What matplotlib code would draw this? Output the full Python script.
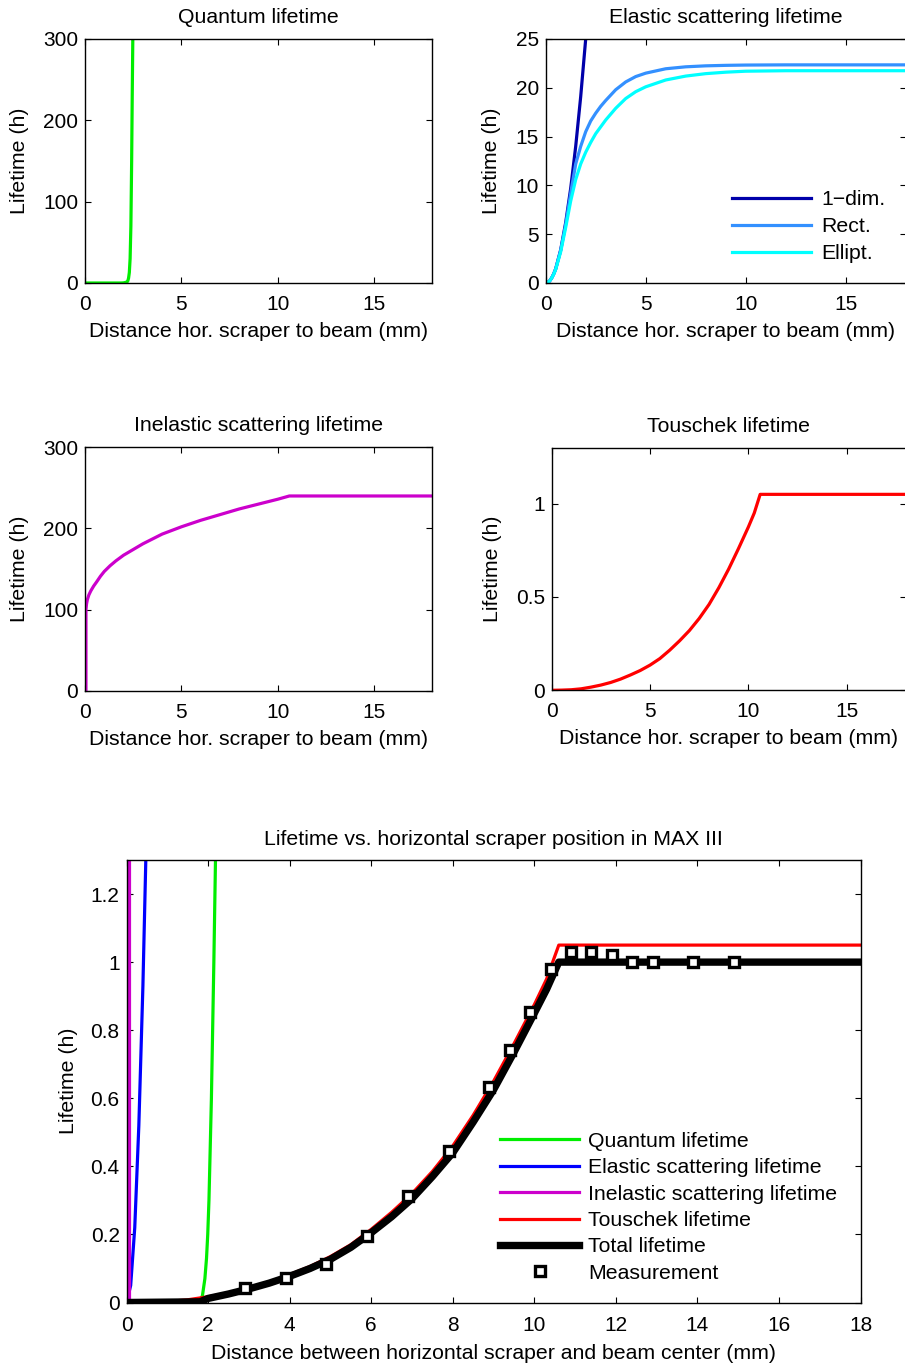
import numpy as np
import matplotlib
matplotlib.use('Agg')
import matplotlib.pyplot as plt

plt.rcParams['font.family'] = ['Liberation Sans', 'DejaVu Sans']
plt.rcParams['font.size'] = 15.3

# quantum lifetime (h) vs scraper distance (mm)
quant_x = [0, 1.0, 1.5, 1.8, 1.86, 1.92, 1.96, 1.99, 2.02, 2.05, 2.08, 2.11, 2.14, 2.18, 2.22, 2.26, 2.3, 2.34, 2.38, 2.42, 2.45, 2.48, 2.52]
quant_y = [0, 0, 0.001, 0.006, 0.02, 0.07, 0.13, 0.2, 0.3, 0.45, 0.6, 0.8, 1.0, 1.3, 2.5, 6, 13, 30, 70, 150, 230, 300, 500]

# elastic scattering lifetime (h), three aperture models
elast_x = [0, 0.1, 0.2, 0.3, 0.4, 0.5, 0.75, 1.0, 1.25, 1.5, 1.75, 2.0, 2.25, 2.5, 2.75, 3, 3.5, 4, 4.5, 5, 6, 7, 8, 9, 10, 12, 15, 18]
elast_1dim = [0, 0.05, 0.22, 0.52, 0.93, 1.45, 3.4, 6.2, 9.7, 14.0, 19.1, 25.0, 31.6, 39, 47, 56, 76, 100, 126, 156, 225, 306, 400, 506, 625, 900, 1400, 2000]
elast_rect = [0, 0.05, 0.22, 0.52, 0.93, 1.45, 3.35, 6.0, 9.2, 12.2, 14.0, 15.5, 16.6, 17.4, 18.1, 18.7, 19.8, 20.6, 21.15, 21.5, 21.95, 22.15, 22.25, 22.3, 22.33, 22.35, 22.35, 22.35]
elast_ell = [0, 0.05, 0.22, 0.51, 0.9, 1.4, 3.2, 5.7, 8.4, 10.6, 12.2, 13.4, 14.4, 15.3, 16.0, 16.7, 17.9, 18.9, 19.6, 20.1, 20.8, 21.2, 21.45, 21.6, 21.7, 21.75, 21.75, 21.75]

# inelastic scattering lifetime (h)
inel_x = [0.05, 0.05, 0.08, 0.12, 0.2, 0.3, 0.45, 0.6, 0.8, 1.0, 1.3, 1.6, 2, 2.5, 3, 3.5, 4, 5, 6, 7, 8, 9, 10, 10.6, 18]
inel_y = [0, 100, 107, 112, 118, 123, 129, 134, 141, 147, 154, 160, 167, 174, 181, 187, 193, 202, 210, 217, 224, 230, 236, 240, 240]

# Touschek lifetime (h)
tou_x = [0, 0.5, 1, 1.5, 2, 2.5, 3, 3.5, 4, 4.5, 5, 5.5, 6, 6.5, 7, 7.5, 8, 8.5, 9, 9.5, 10, 10.3, 10.6, 18]
tou_y = [0, 0.001, 0.003, 0.008, 0.017, 0.028, 0.042, 0.06, 0.082, 0.106, 0.135, 0.17, 0.215, 0.265, 0.32, 0.385, 0.46, 0.55, 0.65, 0.76, 0.875, 0.95, 1.05, 1.05]

# total lifetime (h)
tot_x = [0, 1.8, 2, 2.5, 3, 3.5, 4, 4.5, 5, 5.5, 6, 6.5, 7, 7.5, 8, 8.5, 9, 9.5, 10, 10.3, 10.6, 18]
tot_y = [0, 0.002, 0.012, 0.025, 0.04, 0.057, 0.077, 0.1, 0.127, 0.162, 0.205, 0.252, 0.305, 0.37, 0.44, 0.53, 0.625, 0.735, 0.85, 0.92, 1.0, 1.0]

# measurements
meas_x = [2.9, 3.9, 4.9, 5.9, 6.9, 7.9, 8.9, 9.4, 9.9, 10.4, 10.9, 11.4, 11.9, 12.4, 12.9, 13.9, 14.9]
meas_y = [0.042, 0.072, 0.112, 0.195, 0.312, 0.444, 0.633, 0.742, 0.852, 0.98, 1.03, 1.03, 1.022, 1.0, 1.0, 1.0, 1.0]

GREEN = '#00ee00'
BLUE = '#0000ff'
MAGENTA = '#cc00cc'
RED = '#ff0000'
DBLUE = '#0000aa'
MBLUE = '#3390ff'
CYAN = '#00ffff'

FS = 15.3
W, H = 905, 1364
fig = plt.figure(figsize=(W / 100, H / 100), dpi=100)


def ax_px(l, t, r, b):
    return fig.add_axes([l / W, 1 - b / H, (r - l) / W, (b - t) / H])


def style(ax, xpad=8.5):
    ax.tick_params(direction='in', top=True, right=True, length=4, width=0.8,
                   pad=5, labelsize=15)
    ax.tick_params(axis='x', pad=xpad)
    for s in ax.spines.values():
        s.set_linewidth(1.0)


xl = 'Distance hor. scraper to beam (mm)'

# quantum
ax1 = ax_px(85, 39, 432, 283)
ax1.plot(quant_x, quant_y, color=GREEN, lw=2.3)
ax1.set_xlim(0, 18)
ax1.set_ylim(0, 300)
ax1.set_xticks([0, 5, 10, 15])
ax1.set_yticks([0, 100, 200, 300])
ax1.set_title('Quantum lifetime', fontsize=FS, pad=11.5)
ax1.set_xlabel(xl, labelpad=6)
ax1.set_ylabel('Lifetime (h)', labelpad=10)
style(ax1)

# elastic
ax2 = ax_px(545.7, 39, 905.7, 283)
ax2.plot(elast_x, elast_1dim, color=DBLUE, lw=2.3, label='1\u2212dim.')
ax2.plot(elast_x, elast_rect, color=MBLUE, lw=2.3, label='Rect.')
ax2.plot(elast_x, elast_ell, color=CYAN, lw=2.3, label='Ellipt.')
ax2.set_xlim(0, 18)
ax2.set_ylim(0, 25)
ax2.set_xticks([0, 5, 10, 15])
ax2.set_yticks([0, 5, 10, 15, 20, 25])
ax2.set_title('Elastic scattering lifetime', fontsize=FS, pad=11.5)
ax2.set_xlabel(xl, labelpad=6)
ax2.set_ylabel('Lifetime (h)', labelpad=10)
ax2.legend(loc='upper left', bbox_to_anchor=(0.5175, 0.38), frameon=False,
           handlelength=3.74, handletextpad=0.47, labelspacing=0.37,
           borderaxespad=0, borderpad=0)
style(ax2)

# inelastic
ax3 = ax_px(85, 447.3, 432, 690.7)
ax3.plot(inel_x, inel_y, color=MAGENTA, lw=2.3)
ax3.set_xlim(0, 18)
ax3.set_ylim(0, 300)
ax3.set_xticks([0, 5, 10, 15])
ax3.set_yticks([0, 100, 200, 300])
ax3.set_title('Inelastic scattering lifetime', fontsize=FS, pad=11.5)
ax3.set_xlabel(xl, labelpad=6)
ax3.set_ylabel('Lifetime (h)', labelpad=10)
style(ax3)

# Touschek
ax4 = ax_px(551.7, 447.7, 905.7, 690.3)
ax4.plot(tou_x, tou_y, color=RED, lw=2.3)
ax4.set_xlim(0, 18)
ax4.set_ylim(0, 1.3)
ax4.set_xticks([0, 5, 10, 15])
ax4.set_yticks([0, 0.5, 1])
ax4.set_yticklabels(['0', '0.5', '1'])
ax4.set_title('Touschek lifetime', fontsize=FS, pad=11.5)
ax4.set_xlabel(xl, labelpad=6)
ax4.set_ylabel('Lifetime (h)', labelpad=10)
style(ax4)

# combined
ax5 = ax_px(126.6, 860, 860.5, 1302.5)
ax5.plot(quant_x, quant_y, color=GREEN, lw=2.3, label='Quantum lifetime')
ax5.plot(elast_x, elast_1dim, color=BLUE, lw=2.3, label='Elastic scattering lifetime')
ax5.plot(inel_x, inel_y, color=MAGENTA, lw=2.3, label='Inelastic scattering lifetime')
ax5.plot(tou_x, tou_y, color=RED, lw=2.3, label='Touschek lifetime')
ax5.plot(tot_x, tot_y, color='black', lw=5.3, label='Total lifetime')
ax5.plot(meas_x, meas_y, 's', ms=7.5, mfc='white', mec='black', mew=2.4,
         ls='none', label='Measurement')
ax5.set_xlim(0, 18)
ax5.set_ylim(0, 1.3)
ax5.set_xticks(range(0, 19, 2))
ax5.set_yticks([0, 0.2, 0.4, 0.6, 0.8, 1, 1.2])
ax5.set_yticklabels(['0', '0.2', '0.4', '0.6', '0.8', '1', '1.2'])
ax5.set_title('Lifetime vs. horizontal scraper position in MAX III', fontsize=FS, pad=11)
ax5.set_xlabel('Distance between horizontal scraper and beam center (mm)', labelpad=6)
ax5.set_ylabel('Lifetime (h)', labelpad=9)
ax5.legend(loc='upper left', bbox_to_anchor=(0.5088, 0.386), frameon=False,
           handlelength=3.74, handletextpad=0.4, labelspacing=0.35,
           borderaxespad=0, borderpad=0)
style(ax5, xpad=10)

fig.savefig('out.png', dpi=100)
